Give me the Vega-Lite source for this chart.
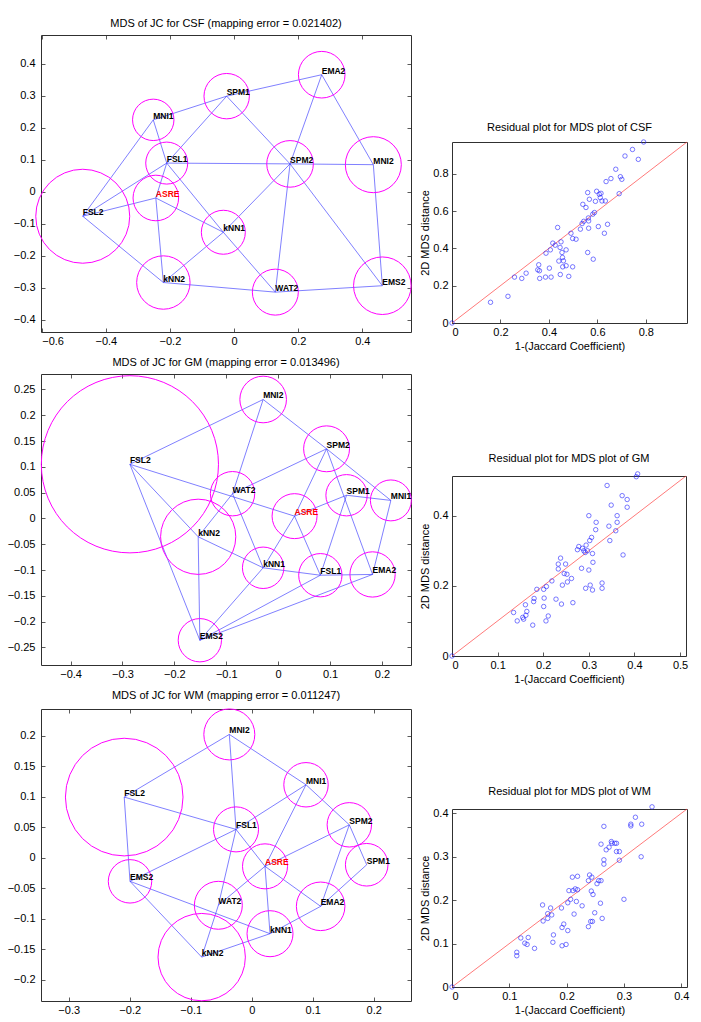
{
  "$schema": "https://vega.github.io/schema/vega-lite/v6.json",
  "padding": {"left": 6, "top": 7, "right": 4, "bottom": 2},
  "background": "#ffffff",
  "datasets": {
    "csf_nodes": [
      {"name": "FSL2", "x": -0.472, "y": -0.076, "r": 0.1466},
      {"name": "ASRE", "x": -0.244, "y": -0.019, "r": 0.0711},
      {"name": "FSL1", "x": -0.21, "y": 0.09, "r": 0.0655},
      {"name": "MNI1", "x": -0.252, "y": 0.225, "r": 0.0646},
      {"name": "SPM1", "x": -0.023, "y": 0.299, "r": 0.0708},
      {"name": "EMA2", "x": 0.2735, "y": 0.366, "r": 0.0727},
      {"name": "SPM2", "x": 0.1747, "y": 0.0875, "r": 0.0727},
      {"name": "kNN1", "x": -0.0334, "y": -0.126, "r": 0.0686},
      {"name": "kNN2", "x": -0.2205, "y": -0.283, "r": 0.0833},
      {"name": "WAT2", "x": 0.1288, "y": -0.313, "r": 0.0717},
      {"name": "MNI2", "x": 0.4345, "y": 0.085, "r": 0.0873},
      {"name": "EMS2", "x": 0.4626, "y": -0.293, "r": 0.0898}
    ],
    "csf_edges": [
      {"s": "FSL2", "t": "MNI1"}, {"s": "FSL2", "t": "FSL1"}, {"s": "FSL2", "t": "ASRE"}, {"s": "FSL2", "t": "kNN2"},
      {"s": "MNI1", "t": "SPM1"}, {"s": "MNI1", "t": "FSL1"}, {"s": "FSL1", "t": "SPM1"}, {"s": "FSL1", "t": "SPM2"},
      {"s": "FSL1", "t": "kNN1"}, {"s": "FSL1", "t": "ASRE"}, {"s": "ASRE", "t": "kNN1"}, {"s": "ASRE", "t": "kNN2"},
      {"s": "kNN2", "t": "kNN1"}, {"s": "kNN2", "t": "WAT2"}, {"s": "kNN1", "t": "WAT2"}, {"s": "kNN1", "t": "SPM2"},
      {"s": "SPM1", "t": "EMA2"}, {"s": "SPM1", "t": "SPM2"}, {"s": "SPM2", "t": "EMA2"}, {"s": "SPM2", "t": "MNI2"},
      {"s": "SPM2", "t": "WAT2"}, {"s": "SPM2", "t": "EMS2"}, {"s": "EMA2", "t": "MNI2"}, {"s": "MNI2", "t": "EMS2"},
      {"s": "WAT2", "t": "EMS2"}
    ],
    "gm_nodes": [
      {"name": "FSL2", "x": -0.2857, "y": 0.105, "r": 0.171},
      {"name": "MNI2", "x": -0.0289, "y": 0.2306, "r": 0.045},
      {"name": "SPM2", "x": 0.0933, "y": 0.135, "r": 0.0443},
      {"name": "WAT2", "x": -0.0879, "y": 0.048, "r": 0.0428},
      {"name": "ASRE", "x": 0.0316, "y": 0.0045, "r": 0.0434},
      {"name": "kNN2", "x": -0.1541, "y": -0.0355, "r": 0.0726},
      {"name": "kNN1", "x": -0.0289, "y": -0.0956, "r": 0.04},
      {"name": "FSL1", "x": 0.0813, "y": -0.11, "r": 0.0418},
      {"name": "EMS2", "x": -0.1509, "y": -0.236, "r": 0.0418},
      {"name": "SPM1", "x": 0.1318, "y": 0.045, "r": 0.0399},
      {"name": "MNI1", "x": 0.2172, "y": 0.035, "r": 0.0395},
      {"name": "EMA2", "x": 0.1819, "y": -0.1085, "r": 0.0437}
    ],
    "gm_edges": [
      {"s": "FSL2", "t": "MNI2"}, {"s": "FSL2", "t": "ASRE"}, {"s": "FSL2", "t": "kNN2"}, {"s": "FSL2", "t": "EMS2"},
      {"s": "MNI2", "t": "WAT2"}, {"s": "MNI2", "t": "SPM2"}, {"s": "SPM2", "t": "WAT2"}, {"s": "SPM2", "t": "ASRE"},
      {"s": "SPM2", "t": "EMA2"}, {"s": "SPM2", "t": "MNI1"}, {"s": "WAT2", "t": "kNN2"}, {"s": "WAT2", "t": "kNN1"},
      {"s": "ASRE", "t": "kNN1"}, {"s": "ASRE", "t": "FSL1"}, {"s": "ASRE", "t": "SPM1"}, {"s": "SPM1", "t": "MNI1"},
      {"s": "SPM1", "t": "FSL1"}, {"s": "MNI1", "t": "EMA2"}, {"s": "kNN2", "t": "kNN1"}, {"s": "kNN2", "t": "EMS2"},
      {"s": "kNN1", "t": "FSL1"}, {"s": "FSL1", "t": "EMA2"}, {"s": "kNN1", "t": "EMS2"}, {"s": "EMS2", "t": "FSL1"},
      {"s": "EMS2", "t": "EMA2"}
    ],
    "wm_nodes": [
      {"name": "MNI2", "x": -0.0367, "y": 0.2023, "r": 0.0418},
      {"name": "FSL2", "x": -0.209, "y": 0.0995, "r": 0.0964},
      {"name": "MNI1", "x": 0.089, "y": 0.1197, "r": 0.0364},
      {"name": "FSL1", "x": -0.0257, "y": 0.0465, "r": 0.0369},
      {"name": "ASRE", "x": 0.0218, "y": -0.0141, "r": 0.0369},
      {"name": "EMS2", "x": -0.1995, "y": -0.0387, "r": 0.0356},
      {"name": "WAT2", "x": -0.0547, "y": -0.078, "r": 0.0393},
      {"name": "EMA2", "x": 0.113, "y": -0.0797, "r": 0.0398},
      {"name": "kNN1", "x": 0.03, "y": -0.1246, "r": 0.0377},
      {"name": "kNN2", "x": -0.082, "y": -0.163, "r": 0.0716},
      {"name": "SPM2", "x": 0.16, "y": 0.054, "r": 0.0364},
      {"name": "SPM1", "x": 0.1885, "y": -0.0115, "r": 0.0349}
    ],
    "wm_edges": [
      {"s": "FSL2", "t": "MNI2"}, {"s": "FSL2", "t": "FSL1"}, {"s": "FSL2", "t": "EMS2"}, {"s": "MNI2", "t": "FSL1"},
      {"s": "MNI2", "t": "MNI1"}, {"s": "MNI1", "t": "SPM2"}, {"s": "MNI1", "t": "FSL1"}, {"s": "MNI1", "t": "ASRE"},
      {"s": "FSL1", "t": "EMS2"}, {"s": "FSL1", "t": "WAT2"}, {"s": "WAT2", "t": "kNN2"}, {"s": "FSL1", "t": "ASRE"},
      {"s": "ASRE", "t": "EMA2"}, {"s": "ASRE", "t": "WAT2"}, {"s": "ASRE", "t": "kNN1"}, {"s": "ASRE", "t": "SPM2"},
      {"s": "EMS2", "t": "kNN1"}, {"s": "EMS2", "t": "kNN2"}, {"s": "kNN2", "t": "kNN1"}, {"s": "kNN1", "t": "EMA2"},
      {"s": "EMA2", "t": "SPM1"}, {"s": "EMA2", "t": "SPM2"}, {"s": "SPM2", "t": "SPM1"}
    ],
    "csf_fit": [{"d": 0, "m": 0, "d2": 0.97, "m2": 0.97}],
    "gm_fit": [{"d": 0, "m": 0, "d2": 0.513, "m2": 0.513}],
    "wm_fit": [{"d": 0, "m": 0, "d2": 0.41, "m2": 0.41}],
    "csf_res": [
      {"d": 0, "m": 0}, {"d": 0.159, "m": 0.111}, {"d": 0.231, "m": 0.143}, {"d": 0.258, "m": 0.246}, {"d": 0.288, "m": 0.239},
      {"d": 0.306, "m": 0.267}, {"d": 0.358, "m": 0.312}, {"d": 0.354, "m": 0.285}, {"d": 0.361, "m": 0.28}, {"d": 0.362, "m": 0.239},
      {"d": 0.386, "m": 0.246}, {"d": 0.388, "m": 0.374}, {"d": 0.402, "m": 0.294}, {"d": 0.406, "m": 0.392}, {"d": 0.409, "m": 0.246},
      {"d": 0.416, "m": 0.428}, {"d": 0.426, "m": 0.417}, {"d": 0.436, "m": 0.512}, {"d": 0.441, "m": 0.332}, {"d": 0.446, "m": 0.405},
      {"d": 0.447, "m": 0.26}, {"d": 0.45, "m": 0.435}, {"d": 0.454, "m": 0.378}, {"d": 0.456, "m": 0.351}, {"d": 0.46, "m": 0.333},
      {"d": 0.457, "m": 0.301}, {"d": 0.471, "m": 0.392}, {"d": 0.471, "m": 0.307}, {"d": 0.482, "m": 0.25}, {"d": 0.491, "m": 0.481},
      {"d": 0.498, "m": 0.453}, {"d": 0.498, "m": 0.301}, {"d": 0.512, "m": 0.449}, {"d": 0.53, "m": 0.503}, {"d": 0.537, "m": 0.533},
      {"d": 0.54, "m": 0.636}, {"d": 0.544, "m": 0.545}, {"d": 0.553, "m": 0.619}, {"d": 0.56, "m": 0.378}, {"d": 0.56, "m": 0.699},
      {"d": 0.563, "m": 0.563}, {"d": 0.564, "m": 0.547}, {"d": 0.564, "m": 0.508}, {"d": 0.567, "m": 0.663}, {"d": 0.581, "m": 0.583},
      {"d": 0.583, "m": 0.342}, {"d": 0.588, "m": 0.592}, {"d": 0.592, "m": 0.652}, {"d": 0.597, "m": 0.706}, {"d": 0.604, "m": 0.517},
      {"d": 0.608, "m": 0.69}, {"d": 0.612, "m": 0.672}, {"d": 0.615, "m": 0.695}, {"d": 0.619, "m": 0.654}, {"d": 0.629, "m": 0.481},
      {"d": 0.633, "m": 0.654}, {"d": 0.636, "m": 0.758}, {"d": 0.642, "m": 0.529}, {"d": 0.656, "m": 0.774}, {"d": 0.676, "m": 0.824},
      {"d": 0.69, "m": 0.693}, {"d": 0.695, "m": 0.784}, {"d": 0.701, "m": 0.77}, {"d": 0.714, "m": 0.895}, {"d": 0.745, "m": 0.93},
      {"d": 0.769, "m": 0.877}, {"d": 0.791, "m": 0.97}
    ],
    "gm_res": [
      {"d": 0, "m": 0}, {"d": 0.135, "m": 0.124}, {"d": 0.143, "m": 0.1}, {"d": 0.155, "m": 0.11}, {"d": 0.157, "m": 0.105},
      {"d": 0.161, "m": 0.146}, {"d": 0.162, "m": 0.116}, {"d": 0.164, "m": 0.127}, {"d": 0.177, "m": 0.088}, {"d": 0.179, "m": 0.155},
      {"d": 0.18, "m": 0.164}, {"d": 0.186, "m": 0.19}, {"d": 0.201, "m": 0.141}, {"d": 0.202, "m": 0.165}, {"d": 0.201, "m": 0.19},
      {"d": 0.206, "m": 0.1}, {"d": 0.207, "m": 0.198}, {"d": 0.211, "m": 0.114}, {"d": 0.219, "m": 0.214}, {"d": 0.228, "m": 0.162},
      {"d": 0.233, "m": 0.248}, {"d": 0.233, "m": 0.262}, {"d": 0.238, "m": 0.279}, {"d": 0.24, "m": 0.148}, {"d": 0.242, "m": 0.202},
      {"d": 0.246, "m": 0.235}, {"d": 0.249, "m": 0.262}, {"d": 0.252, "m": 0.233}, {"d": 0.253, "m": 0.211}, {"d": 0.262, "m": 0.221},
      {"d": 0.265, "m": 0.152}, {"d": 0.275, "m": 0.303}, {"d": 0.278, "m": 0.312}, {"d": 0.284, "m": 0.25}, {"d": 0.286, "m": 0.307},
      {"d": 0.289, "m": 0.3}, {"d": 0.292, "m": 0.295}, {"d": 0.293, "m": 0.193}, {"d": 0.294, "m": 0.316}, {"d": 0.297, "m": 0.3},
      {"d": 0.3, "m": 0.4}, {"d": 0.3, "m": 0.245}, {"d": 0.302, "m": 0.329}, {"d": 0.303, "m": 0.202}, {"d": 0.306, "m": 0.338},
      {"d": 0.308, "m": 0.188}, {"d": 0.308, "m": 0.292}, {"d": 0.309, "m": 0.267}, {"d": 0.315, "m": 0.36}, {"d": 0.316, "m": 0.381},
      {"d": 0.329, "m": 0.208}, {"d": 0.329, "m": 0.193}, {"d": 0.34, "m": 0.486}, {"d": 0.344, "m": 0.37}, {"d": 0.346, "m": 0.329},
      {"d": 0.349, "m": 0.43}, {"d": 0.359, "m": 0.357}, {"d": 0.362, "m": 0.4}, {"d": 0.362, "m": 0.381}, {"d": 0.373, "m": 0.457},
      {"d": 0.375, "m": 0.288}, {"d": 0.384, "m": 0.446}, {"d": 0.384, "m": 0.424}, {"d": 0.404, "m": 0.511}, {"d": 0.407, "m": 0.519}
    ],
    "wm_res": [
      {"d": 0, "m": 0}, {"d": 0.113, "m": 0.08}, {"d": 0.113, "m": 0.072}, {"d": 0.12, "m": 0.113}, {"d": 0.127, "m": 0.101},
      {"d": 0.131, "m": 0.098}, {"d": 0.133, "m": 0.114}, {"d": 0.144, "m": 0.089}, {"d": 0.158, "m": 0.189}, {"d": 0.159, "m": 0.152},
      {"d": 0.167, "m": 0.169}, {"d": 0.167, "m": 0.158}, {"d": 0.172, "m": 0.182}, {"d": 0.174, "m": 0.166}, {"d": 0.177, "m": 0.12},
      {"d": 0.176, "m": 0.103}, {"d": 0.191, "m": 0.182}, {"d": 0.192, "m": 0.137}, {"d": 0.192, "m": 0.095}, {"d": 0.195, "m": 0.145},
      {"d": 0.199, "m": 0.098}, {"d": 0.202, "m": 0.194}, {"d": 0.202, "m": 0.13}, {"d": 0.204, "m": 0.222}, {"d": 0.207, "m": 0.202},
      {"d": 0.21, "m": 0.253}, {"d": 0.211, "m": 0.222}, {"d": 0.213, "m": 0.168}, {"d": 0.215, "m": 0.226}, {"d": 0.217, "m": 0.197},
      {"d": 0.219, "m": 0.255}, {"d": 0.219, "m": 0.224}, {"d": 0.227, "m": 0.187}, {"d": 0.238, "m": 0.139}, {"d": 0.238, "m": 0.245},
      {"d": 0.24, "m": 0.258}, {"d": 0.242, "m": 0.151}, {"d": 0.243, "m": 0.221}, {"d": 0.244, "m": 0.253}, {"d": 0.245, "m": 0.151},
      {"d": 0.246, "m": 0.213}, {"d": 0.249, "m": 0.171}, {"d": 0.253, "m": 0.238}, {"d": 0.256, "m": 0.245}, {"d": 0.259, "m": 0.193},
      {"d": 0.26, "m": 0.329}, {"d": 0.26, "m": 0.245}, {"d": 0.262, "m": 0.158}, {"d": 0.265, "m": 0.293}, {"d": 0.265, "m": 0.283},
      {"d": 0.265, "m": 0.37}, {"d": 0.269, "m": 0.316}, {"d": 0.274, "m": 0.322}, {"d": 0.278, "m": 0.335}, {"d": 0.279, "m": 0.331},
      {"d": 0.284, "m": 0.331}, {"d": 0.287, "m": 0.331}, {"d": 0.287, "m": 0.312}, {"d": 0.292, "m": 0.312}, {"d": 0.292, "m": 0.292},
      {"d": 0.3, "m": 0.202}, {"d": 0.312, "m": 0.375}, {"d": 0.312, "m": 0.371}, {"d": 0.32, "m": 0.391}, {"d": 0.33, "m": 0.3},
      {"d": 0.331, "m": 0.375}, {"d": 0.349, "m": 0.415}
    ],
    "blank": [{"k": 1}]
  },
  "hconcat": [
    {
      "concat": [
        {
          "width": 10, "height": 1,
          "data": {"name": "blank"},
          "mark": {"type": "rect", "opacity": 0},
          "encoding": {},
          "view": {"stroke": null}
        },
        {
          "title": "MDS of JC for CSF (mapping error = 0.021402)",
          "width": 370, "height": 297,
          "resolve": {"axis": {"x": "independent", "y": "independent"}},
          "layer": [
            {
              "data": {"name": "csf_edges"},
              "transform": [
                {"lookup": "s", "from": {"data": {"name": "csf_nodes"}, "key": "name", "fields": ["x", "y"]}, "as": ["x1", "y1"]},
                {"lookup": "t", "from": {"data": {"name": "csf_nodes"}, "key": "name", "fields": ["x", "y"]}, "as": ["x2", "y2"]}
              ],
              "mark": {"type": "rule", "color": "#2a2aff", "strokeWidth": 0.6},
              "encoding": {
                "x": {"field": "x1", "type": "quantitative", "scale": {"domain": [-0.6022, 0.552], "nice": false, "zero": false}, "axis": {"orient": "bottom", "values": [-0.6, -0.4, -0.2, 0, 0.2, 0.4], "title": null, "format": "~g"}},
                "y": {"field": "y1", "type": "quantitative", "scale": {"domain": [-0.4375, 0.49], "nice": false, "zero": false}, "axis": {"orient": "left", "values": [-0.4, -0.3, -0.2, -0.1, 0, 0.1, 0.2, 0.3, 0.4], "title": null, "format": "~g"}},
                "x2": {"field": "x2"},
                "y2": {"field": "y2"}
              }
            },
            {
              "data": {"name": "csf_nodes"},
              "mark": {"type": "point", "shape": "circle", "filled": false, "color": "#ff00ff", "strokeWidth": 1, "opacity": 1},
              "encoding": {
                "x": {"field": "x", "type": "quantitative", "scale": {"domain": [-0.6022, 0.552], "nice": false, "zero": false}, "axis": {"orient": "top", "values": [-0.6, -0.4, -0.2, 0, 0.2, 0.4], "labels": false, "title": null}},
                "y": {"field": "y", "type": "quantitative", "scale": {"domain": [-0.4375, 0.49], "nice": false, "zero": false}, "axis": {"orient": "right", "values": [-0.4, -0.3, -0.2, -0.1, 0, 0.1, 0.2, 0.3, 0.4], "labels": false, "title": null}},
                "size": {"field": "r", "type": "quantitative", "scale": {"type": "pow", "exponent": 2, "domain": [0, 1], "range": [0, 410881]}, "legend": null}
              }
            },
            {
              "data": {"name": "csf_nodes"},
              "mark": {"type": "text", "align": "left", "baseline": "alphabetic", "dy": -1, "fontSize": 8.5, "fontWeight": "bold"},
              "encoding": {
                "x": {"field": "x", "type": "quantitative", "scale": {"domain": [-0.6022, 0.552], "nice": false, "zero": false}, "axis": null},
                "y": {"field": "y", "type": "quantitative", "scale": {"domain": [-0.4375, 0.49], "nice": false, "zero": false}, "axis": null},
                "text": {"field": "name"},
                "color": {"condition": {"test": "datum.name === 'ASRE'", "value": "#ff0000"}, "value": "#000000"}
              }
            }
          ]
        },
        {
          "title": "MDS of JC for GM (mapping error = 0.013496)",
          "width": 370, "height": 291,
          "resolve": {"axis": {"x": "independent", "y": "independent"}},
          "layer": [
            {
              "data": {"name": "gm_edges"},
              "transform": [
                {"lookup": "s", "from": {"data": {"name": "gm_nodes"}, "key": "name", "fields": ["x", "y"]}, "as": ["x1", "y1"]},
                {"lookup": "t", "from": {"data": {"name": "gm_nodes"}, "key": "name", "fields": ["x", "y"]}, "as": ["x2", "y2"]}
              ],
              "mark": {"type": "rule", "color": "#2a2aff", "strokeWidth": 0.6},
              "encoding": {
                "x": {"field": "x1", "type": "quantitative", "scale": {"domain": [-0.457, 0.256], "nice": false, "zero": false}, "axis": {"orient": "bottom", "values": [-0.4, -0.3, -0.2, -0.1, 0, 0.1, 0.2], "title": null, "format": "~g"}},
                "y": {"field": "y1", "type": "quantitative", "scale": {"domain": [-0.284, 0.28], "nice": false, "zero": false}, "axis": {"orient": "left", "values": [-0.25, -0.2, -0.15, -0.1, -0.05, 0, 0.05, 0.1, 0.15, 0.2, 0.25], "title": null, "format": "~g"}},
                "x2": {"field": "x2"},
                "y2": {"field": "y2"}
              }
            },
            {
              "data": {"name": "gm_nodes"},
              "mark": {"type": "point", "shape": "circle", "filled": false, "color": "#ff00ff", "strokeWidth": 1, "opacity": 1},
              "encoding": {
                "x": {"field": "x", "type": "quantitative", "scale": {"domain": [-0.457, 0.256], "nice": false, "zero": false}, "axis": {"orient": "top", "values": [-0.4, -0.3, -0.2, -0.1, 0, 0.1, 0.2], "labels": false, "title": null}},
                "y": {"field": "y", "type": "quantitative", "scale": {"domain": [-0.284, 0.28], "nice": false, "zero": false}, "axis": {"orient": "right", "values": [-0.25, -0.2, -0.15, -0.1, -0.05, 0, 0.05, 0.1, 0.15, 0.2, 0.25], "labels": false, "title": null}},
                "size": {"field": "r", "type": "quantitative", "scale": {"type": "pow", "exponent": 2, "domain": [0, 1], "range": [0, 1073296]}, "legend": null}
              }
            },
            {
              "data": {"name": "gm_nodes"},
              "mark": {"type": "text", "align": "left", "baseline": "alphabetic", "dy": -1, "fontSize": 8.5, "fontWeight": "bold"},
              "encoding": {
                "x": {"field": "x", "type": "quantitative", "scale": {"domain": [-0.457, 0.256], "nice": false, "zero": false}, "axis": null},
                "y": {"field": "y", "type": "quantitative", "scale": {"domain": [-0.284, 0.28], "nice": false, "zero": false}, "axis": null},
                "text": {"field": "name"},
                "color": {"condition": {"test": "datum.name === 'ASRE'", "value": "#ff0000"}, "value": "#000000"}
              }
            }
          ]
        },
        {
          "title": "MDS of JC for WM (mapping error = 0.011247)",
          "width": 370, "height": 292,
          "resolve": {"axis": {"x": "independent", "y": "independent"}},
          "layer": [
            {
              "data": {"name": "wm_edges"},
              "transform": [
                {"lookup": "s", "from": {"data": {"name": "wm_nodes"}, "key": "name", "fields": ["x", "y"]}, "as": ["x1", "y1"]},
                {"lookup": "t", "from": {"data": {"name": "wm_nodes"}, "key": "name", "fields": ["x", "y"]}, "as": ["x2", "y2"]}
              ],
              "mark": {"type": "rule", "color": "#2a2aff", "strokeWidth": 0.6},
              "encoding": {
                "x": {"field": "x1", "type": "quantitative", "scale": {"domain": [-0.3454, 0.2611], "nice": false, "zero": false}, "axis": {"orient": "bottom", "values": [-0.3, -0.2, -0.1, 0, 0.1, 0.2], "title": null, "format": "~g"}},
                "y": {"field": "y1", "type": "quantitative", "scale": {"domain": [-0.235, 0.244], "nice": false, "zero": false}, "axis": {"orient": "left", "values": [-0.2, -0.15, -0.1, -0.05, 0, 0.05, 0.1, 0.15, 0.2], "title": null, "format": "~g"}},
                "x2": {"field": "x2"},
                "y2": {"field": "y2"}
              }
            },
            {
              "data": {"name": "wm_nodes"},
              "mark": {"type": "point", "shape": "circle", "filled": false, "color": "#ff00ff", "strokeWidth": 1, "opacity": 1},
              "encoding": {
                "x": {"field": "x", "type": "quantitative", "scale": {"domain": [-0.3454, 0.2611], "nice": false, "zero": false}, "axis": {"orient": "top", "values": [-0.3, -0.2, -0.1, 0, 0.1, 0.2], "labels": false, "title": null}},
                "y": {"field": "y", "type": "quantitative", "scale": {"domain": [-0.235, 0.244], "nice": false, "zero": false}, "axis": {"orient": "right", "values": [-0.2, -0.15, -0.1, -0.05, 0, 0.05, 0.1, 0.15, 0.2], "labels": false, "title": null}},
                "size": {"field": "r", "type": "quantitative", "scale": {"type": "pow", "exponent": 2, "domain": [0, 1], "range": [0, 1488400]}, "legend": null}
              }
            },
            {
              "data": {"name": "wm_nodes"},
              "mark": {"type": "text", "align": "left", "baseline": "alphabetic", "dy": -1, "fontSize": 8.5, "fontWeight": "bold"},
              "encoding": {
                "x": {"field": "x", "type": "quantitative", "scale": {"domain": [-0.3454, 0.2611], "nice": false, "zero": false}, "axis": null},
                "y": {"field": "y", "type": "quantitative", "scale": {"domain": [-0.235, 0.244], "nice": false, "zero": false}, "axis": null},
                "text": {"field": "name"},
                "color": {"condition": {"test": "datum.name === 'ASRE'", "value": "#ff0000"}, "value": "#000000"}
              }
            }
          ]
        }
      ],
      "columns": 1,
      "spacing": 9,
      "align": "none",
      "resolve": {"scale": {"x": "independent", "y": "independent", "size": "independent"}}
    },
    {
      "concat": [
        {
          "width": 200, "height": 14,
          "data": {"name": "blank"},
          "mark": {"type": "rect", "opacity": 0},
          "encoding": {},
          "view": {"stroke": null}
        },
        {
          "title": "Residual plot for MDS plot of CSF",
          "width": 235, "height": 181,
          "layer": [
            {
              "data": {"name": "csf_fit"},
              "mark": {"type": "rule", "color": "#ff4040", "strokeWidth": 0.7},
              "encoding": {
                "x": {"field": "d", "type": "quantitative", "scale": {"domain": [0, 0.97], "nice": false}, "axis": {"values": [0, 0.2, 0.4, 0.6, 0.8], "title": "1-(Jaccard Coefficient)", "format": "~g"}},
                "y": {"field": "m", "type": "quantitative", "scale": {"domain": [0, 0.97], "nice": false}, "axis": {"values": [0, 0.2, 0.4, 0.6, 0.8], "title": "2D MDS distance", "format": "~g", "labelPadding": 4, "titlePadding": 2}},
                "x2": {"field": "d2"},
                "y2": {"field": "m2"}
              }
            },
            {
              "data": {"name": "csf_res"},
              "mark": {"type": "point", "shape": "circle", "filled": false, "color": "#2020ff", "size": 20, "strokeWidth": 0.6, "opacity": 1},
              "encoding": {
                "x": {"field": "d", "type": "quantitative", "scale": {"domain": [0, 0.97], "nice": false}},
                "y": {"field": "m", "type": "quantitative", "scale": {"domain": [0, 0.97], "nice": false}}
              }
            }
          ]
        },
        {
          "title": "Residual plot for MDS plot of GM",
          "width": 234, "height": 180,
          "layer": [
            {
              "data": {"name": "gm_fit"},
              "mark": {"type": "rule", "color": "#ff4040", "strokeWidth": 0.7},
              "encoding": {
                "x": {"field": "d", "type": "quantitative", "scale": {"domain": [0, 0.513], "nice": false}, "axis": {"values": [0, 0.1, 0.2, 0.3, 0.4, 0.5], "title": "1-(Jaccard Coefficient)", "format": "~g"}},
                "y": {"field": "m", "type": "quantitative", "scale": {"domain": [0, 0.513], "nice": false}, "axis": {"values": [0, 0.1, 0.2, 0.3, 0.4, 0.5], "title": "2D MDS distance", "format": "~g", "labelPadding": 4, "titlePadding": 2}},
                "x2": {"field": "d2"},
                "y2": {"field": "m2"}
              }
            },
            {
              "data": {"name": "gm_res"},
              "mark": {"type": "point", "shape": "circle", "filled": false, "color": "#2020ff", "size": 20, "strokeWidth": 0.6, "opacity": 1},
              "encoding": {
                "x": {"field": "d", "type": "quantitative", "scale": {"domain": [0, 0.513], "nice": false}},
                "y": {"field": "m", "type": "quantitative", "scale": {"domain": [0, 0.513], "nice": false}}
              }
            }
          ]
        },
        {
          "title": "Residual plot for MDS plot of WM",
          "width": 235, "height": 178,
          "layer": [
            {
              "data": {"name": "wm_fit"},
              "mark": {"type": "rule", "color": "#ff4040", "strokeWidth": 0.7},
              "encoding": {
                "x": {"field": "d", "type": "quantitative", "scale": {"domain": [0, 0.41], "nice": false}, "axis": {"values": [0, 0.1, 0.2, 0.3, 0.4], "title": "1-(Jaccard Coefficient)", "format": "~g"}},
                "y": {"field": "m", "type": "quantitative", "scale": {"domain": [0, 0.41], "nice": false}, "axis": {"values": [0, 0.1, 0.2, 0.3, 0.4], "title": "2D MDS distance", "format": "~g", "labelPadding": 4, "titlePadding": 2}},
                "x2": {"field": "d2"},
                "y2": {"field": "m2"}
              }
            },
            {
              "data": {"name": "wm_res"},
              "mark": {"type": "point", "shape": "circle", "filled": false, "color": "#2020ff", "size": 20, "strokeWidth": 0.6, "opacity": 1},
              "encoding": {
                "x": {"field": "d", "type": "quantitative", "scale": {"domain": [0, 0.41], "nice": false}},
                "y": {"field": "m", "type": "quantitative", "scale": {"domain": [0, 0.41], "nice": false}}
              }
            }
          ]
        }
      ],
      "columns": 1,
      "spacing": 100,
      "align": "none",
      "resolve": {"scale": {"x": "independent", "y": "independent"}}
    }
  ],
  "spacing": 5,
  "resolve": {"scale": {"x": "independent", "y": "independent", "size": "independent"}},
  "config": {
    "font": "Liberation Sans",
    "view": {"stroke": "#303030", "strokeWidth": 1},
    "axis": {"grid": false, "domain": false, "ticks": true, "tickSize": 4, "offset": -4, "tickColor": "#303030", "tickWidth": 0.8, "labels": true, "labelFontSize": 11, "labelColor": "#000000", "labelOverlap": false, "titleFontSize": 11, "titleFontWeight": "normal", "titleColor": "#000000", "titlePadding": 3},
    "axisX": {"labelPadding": 3},
    "axisY": {"labelPadding": 6},
    "title": {"fontSize": 11, "fontWeight": "normal", "frame": "group", "anchor": "middle", "offset": 6, "color": "#000000"}
  }
}
